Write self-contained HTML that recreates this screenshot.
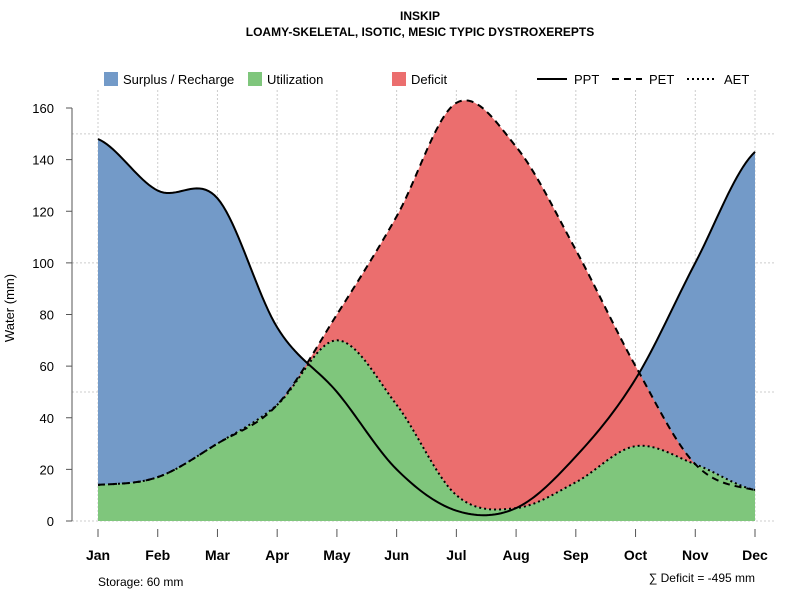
<!DOCTYPE html>
<html><head><meta charset="utf-8"><style>
body{margin:0;background:#fff;}
svg text{font-family:"Liberation Sans",sans-serif;}
</style></head><body>
<svg id="chart" width="800" height="600" xmlns="http://www.w3.org/2000/svg">
<text x="420" y="20" text-anchor="middle" font-size="12" font-weight="bold">INSKIP</text>
<text x="420" y="36" text-anchor="middle" font-size="12" font-weight="bold">LOAMY-SKELETAL, ISOTIC, MESIC TYPIC DYSTROXEREPTS</text>
<g id="grid"></g>
<g id="areas"></g>
<g id="lines"></g>
<g id="axes"></g>
<g>
<rect x="104" y="72" width="14" height="14" fill="#739ac8"/>
<text x="123" y="84" font-size="13">Surplus / Recharge</text>
<rect x="248" y="72" width="14" height="14" fill="#7fc67c"/>
<text x="267" y="84" font-size="13">Utilization</text>
<rect x="392" y="72" width="14" height="14" fill="#eb6e6e"/>
<text x="411" y="84" font-size="13">Deficit</text>
<line x1="537" y1="79" x2="567" y2="79" stroke="#000" stroke-width="2"/>
<text x="574" y="84" font-size="13">PPT</text>
<line x1="612" y1="79" x2="642" y2="79" stroke="#000" stroke-width="2" stroke-dasharray="7,5"/>
<text x="649" y="84" font-size="13">PET</text>
<line x1="687" y1="79" x2="717" y2="79" stroke="#000" stroke-width="2" stroke-dasharray="2,3"/>
<text x="724" y="84" font-size="13">AET</text>
</g>
<text x="98" y="586" font-size="12">Storage: 60 mm</text>
<text x="755" y="582" text-anchor="end" font-size="12">∑ Deficit = -495 mm</text>
<text transform="translate(14,308) rotate(-90)" text-anchor="middle" font-size="13">Water (mm)</text>
</svg>
<script>
const months=["Jan","Feb","Mar","Apr","May","Jun","Jul","Aug","Sep","Oct","Nov","Dec"];
const ppt=[148,128,125,75,50,20,4,5,25,55,100,143];
const pet=[14,17,30,45,80,118,162,145,105,60,22,12];
const aet=[14,17,30,45,70,45,10,5,15,29,22,12];
const yTicks=[0,20,40,60,80,100,120,140,160];
const yGrid=[0,50,100,150];
const NS="http://www.w3.org/2000/svg";
const X=i=>98+i*(755-98)/11;
const Y=v=>521-v*413/160;
function el(t,a,p){const e=document.createElementNS(NS,t);for(const k in a)e.setAttribute(k,a[k]);p.appendChild(e);return e;}
function spline(arr){const out=[];const n=arr.length;for(let i=0;i<n-1;i++){const p0=arr[Math.max(0,i-1)],p1=arr[i],p2=arr[i+1],p3=arr[Math.min(n-1,i+2)];for(let s=0;s<20;s++){const t=s/20;out.push([i+t,0.5*(2*p1+(-p0+p2)*t+(2*p0-5*p1+4*p2-p3)*t*t+(-p0+3*p1-3*p2+p3)*t*t*t)]);}}out.push([n-1,arr[n-1]]);return out;}
const sP=spline(ppt),sE=spline(pet),sA=spline(aet);
const grid=document.getElementById('grid'),areas=document.getElementById('areas'),lines=document.getElementById('lines'),axes=document.getElementById('axes');
months.forEach((m,i)=>{const g=el('line',{x1:X(i),x2:X(i),y1:90,y2:521,stroke:'#ccc','stroke-dasharray':'2,2'},grid);});
yGrid.forEach(v=>{const g=el('line',{x1:72,x2:775,y1:Y(v),y2:Y(v),stroke:'#ccc','stroke-dasharray':'2,2'},grid);});
function band(lo,hi,fill,name){let top=hi.map((p,k)=>[p[0],Math.max(p[1],lo[k][1])]);let d='M'+lo.map(p=>X(p[0])+','+Y(p[1])).join('L')+'L'+top.slice().reverse().map(p=>X(p[0])+','+Y(p[1])).join('L')+'Z';const e=el('path',{d:d,fill:fill},areas);}
band(sA,sP,'#739ac8','surplus-area');
band(sA,sE,'#eb6e6e','deficit-area');
band(sA.map(p=>[p[0],0]),sA,'#7fc67c','utilization-area');
function line(s,dash,name){const e=el('path',{d:'M'+s.map(p=>X(p[0])+','+Y(p[1])).join('L'),fill:'none',stroke:'#000','stroke-width':2,'stroke-dasharray':dash},lines);}
line(sP,'none','ppt-line');line(sE,'7,5','pet-line');line(sA,'2,3','aet-line');
const ax=el('line',{x1:72,x2:72,y1:Y(160),y2:521,stroke:'#555'},axes);
yTicks.forEach(v=>{const t=el('line',{x1:66,x2:72,y1:Y(v),y2:Y(v),stroke:'#555'},axes);
const l=el('text',{x:54,y:Y(v)+5,'text-anchor':'end','font-size':13},axes);l.textContent=v;});
months.forEach((m,i)=>{const t=el('line',{x1:X(i),x2:X(i),y1:529,y2:537,stroke:'#555'},axes);
const l=el('text',{x:X(i),y:560,'text-anchor':'middle','font-size':14,'font-weight':'bold'},axes);l.textContent=m;});
</script>
</body></html>
